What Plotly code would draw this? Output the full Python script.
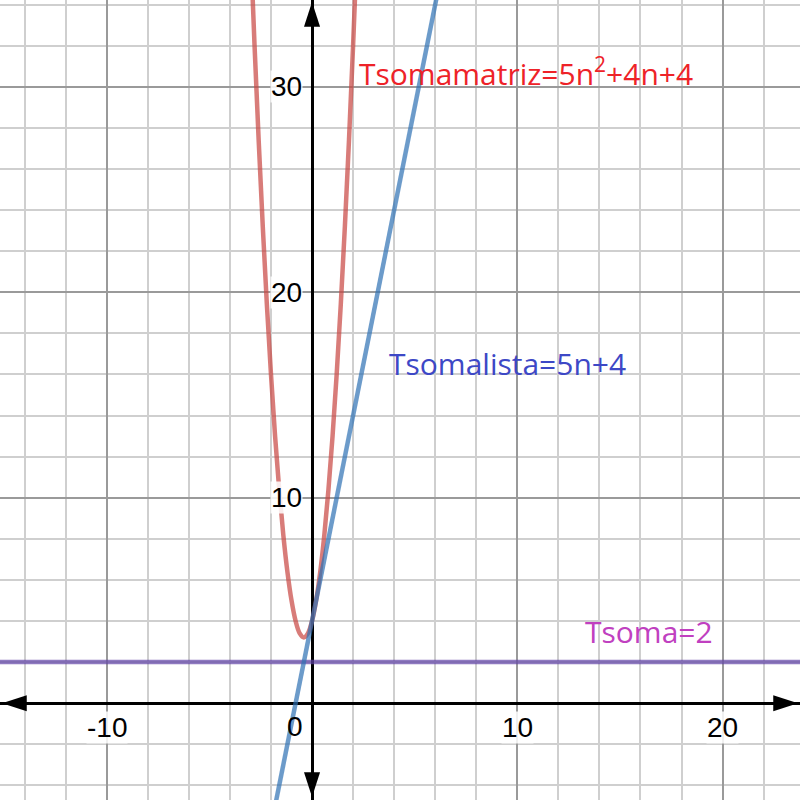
import plotly.graph_objects as go

# ---- data ----
n_matriz = [-3.0, -2.8, -2.6, -2.4, -2.2, -2.0, -1.8, -1.6, -1.4, -1.2, -1.0, -0.8, -0.6,
            -0.4, -0.2, 0.0, 0.2, 0.4, 0.6, 0.8, 1.0, 1.2, 1.4, 1.6, 1.8, 2.0, 2.2]
t_matriz = [37.0, 32.0, 27.4, 23.2, 19.4, 16.0, 13.0, 10.4, 8.2, 6.4, 5.0, 4.0, 3.4,
            3.2, 3.4, 4.0, 5.0, 6.4, 8.2, 10.4, 13.0, 16.0, 19.4, 23.2, 27.4, 32.0, 37.0]
n_lista = [-2.0, 7.0]
t_lista = [-6.0, 39.0]
n_soma = [-16.0, 25.0]
t_soma = [2.0, 2.0]

x_tick_vals = [-10, 10, 20]
y_tick_vals = [10, 20, 30]
origin_label = "0"

label_matriz = "Tsomamatriz=5n<sup>2</sup>+4n+4"
label_lista = "Tsomalista=5n+4"
label_soma = "Tsoma=2"

x_range = [-15.20, 23.77]
y_range = [-4.71, 34.22]

RED = "rgba(199,68,64,0.7)"
BLUE = "rgba(45,112,179,0.7)"
PURPLE = "rgba(96,66,166,0.7)"

fig = go.Figure()

fig.add_trace(go.Scatter(x=n_soma, y=t_soma, mode="lines",
                         line=dict(color=PURPLE, width=4.5), hoverinfo="skip"))
fig.add_trace(go.Scatter(x=n_matriz, y=t_matriz, mode="lines",
                         line=dict(color=RED, width=4.5, shape="spline"), hoverinfo="skip"))
fig.add_trace(go.Scatter(x=n_lista, y=t_lista, mode="lines",
                         line=dict(color=BLUE, width=4.5), hoverinfo="skip"))

# axis arrowheads (tips at the edges of the view)
dx = (x_range[1] - x_range[0]) / 800
dy = (y_range[1] - y_range[0]) / 800
fig.add_trace(go.Scatter(
    x=[0, 0, x_range[0] + 2 * dx, x_range[1] - 2 * dx],
    y=[y_range[1] - 2 * dy, y_range[0] + 3 * dy, 0, 0],
    mode="markers",
    marker=dict(symbol="arrow", size=26, color="black", angle=[0, 180, 270, 90],
                line=dict(width=0)),
    cliponaxis=False, hoverinfo="skip"))

ann = []
tick_font = dict(family="Liberation Sans, Arial", size=28, color="black")
for v in x_tick_vals:
    ann.append(dict(x=v, y=0, xref="x", yref="y", text=str(v), showarrow=False,
                    xanchor="center", yanchor="middle", yshift=-24, font=tick_font,
                    bgcolor="rgba(255,255,255,0.85)", borderpad=0))
for v in y_tick_vals:
    ann.append(dict(x=0, y=v, xref="x", yref="y", text=str(v), showarrow=False,
                    xanchor="right", yanchor="middle", xshift=-9, font=tick_font,
                    bgcolor="rgba(255,255,255,0.85)", borderpad=0))
ann.append(dict(x=0, y=0, xref="x", yref="y", text=origin_label, showarrow=False,
                xanchor="center", yanchor="middle", xshift=-17, yshift=-23, font=tick_font))

label_font = "Open Sans, Noto Sans, sans-serif"
ann.append(dict(x=2.19, y=30.72, xref="x", yref="y", text=label_matriz, showarrow=False,
                xanchor="left", yanchor="middle",
                font=dict(family=label_font, size=30, color="#ee2228")))
ann.append(dict(x=3.64, y=16.51, xref="x", yref="y", text=label_lista, showarrow=False,
                xanchor="left", yanchor="middle",
                font=dict(family=label_font, size=30, color="#3d48c6")))
ann.append(dict(x=13.22, y=3.48, xref="x", yref="y", text=label_soma, showarrow=False,
                xanchor="left", yanchor="middle",
                font=dict(family=label_font, size=30, color="#c040c0")))

axis_common = dict(
    dtick=10, tick0=0, showgrid=True, gridcolor="#9a9a9a", gridwidth=1.5,
    minor=dict(dtick=2, showgrid=True, gridcolor="#cfcfcf", gridwidth=1.5),
    zeroline=True, zerolinecolor="black", zerolinewidth=3,
    showticklabels=False, ticks="", showline=False, fixedrange=True,
)

fig.update_layout(
    width=800, height=800,
    margin=dict(l=0, r=0, t=0, b=0),
    paper_bgcolor="white", plot_bgcolor="white",
    showlegend=False,
    xaxis=dict(range=x_range, **axis_common),
    yaxis=dict(range=y_range, **axis_common),
    annotations=ann,
)

fig.write_html("out.html", config={"displayModeBar": False},
               post_script="document.body.style.margin='0';document.body.style.overflow='hidden';")
